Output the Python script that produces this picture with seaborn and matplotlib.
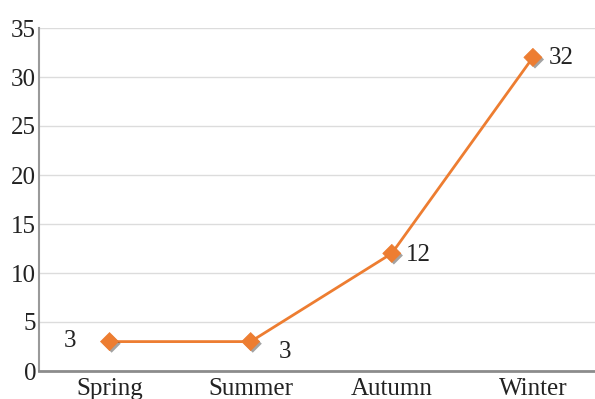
import matplotlib
matplotlib.use("Agg")
import matplotlib.pyplot as plt
import matplotlib.patheffects as pe
import seaborn as sns
import pandas as pd

seasons = ["Spring", "Summer", "Autumn", "Winter"]
values = [3, 3, 12, 32]
yticks = [0, 5, 10, 15, 20, 25, 30, 35]

sns.set_style("white")
plt.rcParams["font.family"] = ["Liberation Serif", "DejaVu Serif"]

df = pd.DataFrame({"season": seasons, "value": values})

fig = plt.figure(figsize=(5.95, 3.99), dpi=100)
ax = fig.add_axes([39 / 595, 28 / 399, 1 - 39 / 595, 343 / 399])

orange = "#ED7D31"
sns.lineplot(data=df, x="season", y="value", ax=ax, color=orange, linewidth=2, sort=False)
sns.scatterplot(data=df, x="season", y="value", ax=ax, color=orange, marker="D", s=85,
                edgecolor=orange, linewidth=0.5, zorder=5,
                path_effects=[pe.SimplePatchShadow(offset=(1.5, -1.5), alpha=0.45, shadow_rgbFace="#333333"),
                              pe.Normal()])

ax.set_ylim(0, 35)
ax.set_xlim(-0.5, 3.44)
ax.set_yticks(yticks)
ax.set_yticklabels([str(t) for t in yticks])
ax.grid(axis="y", color="#dcdcdc", linewidth=1)
ax.set_axisbelow(True)
ax.set_xlabel("")
ax.set_ylabel("")
for s in ["top", "right"]:
    ax.spines[s].set_visible(False)
ax.spines["left"].set_color("#9a9a9a")
ax.spines["left"].set_linewidth(1.5)
ax.spines["bottom"].set_color("#8c8c8c")
ax.spines["bottom"].set_linewidth(2)
ax.tick_params(axis="both", length=0, labelsize=18, colors="#222222")
ax.tick_params(axis="y", pad=2)
ax.tick_params(axis="x", pad=5)

offsets = [(-40, 1), (34, -10), (27, -2), (28, -1)]
for i, (v, off) in enumerate(zip(values, offsets)):
    ax.annotate(str(v), (i, v), xytext=off, textcoords="offset pixels",
                ha="center", va="center", fontsize=18, color="#222222")

fig.savefig("out.png", dpi=100)
